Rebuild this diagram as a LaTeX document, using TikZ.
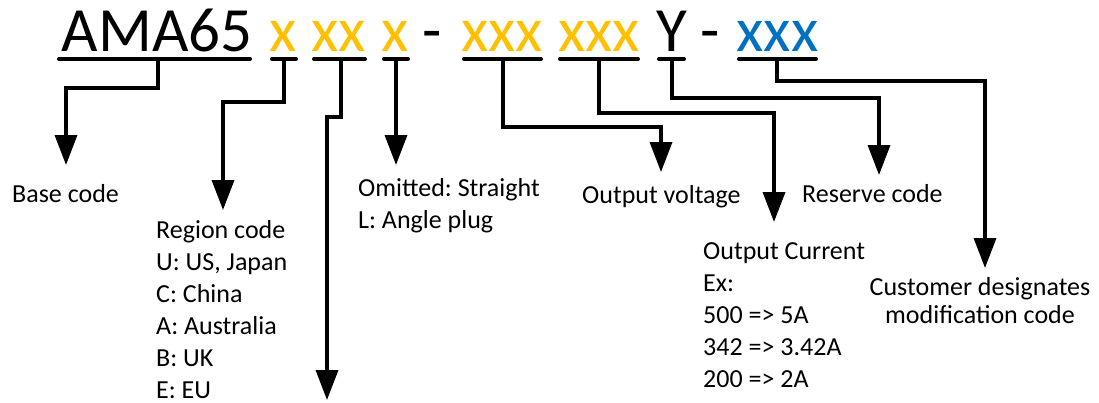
\documentclass[tikz,border=0pt]{standalone}
\usepackage{fontspec}
\setmainfont{Carlito}
\usetikzlibrary{arrows.meta}
\definecolor{codeyellow}{HTML}{FFC000}
\definecolor{codeblue}{HTML}{0070C0}
\frenchspacing
\begin{document}
\begin{tikzpicture}[x=1pt,y=-1pt,
  titletext/.style={font=\fontsize{63}{70}\selectfont, inner sep=0pt, anchor=base},
  lbl/.style={font=\fontsize{26}{32}\selectfont\frenchspacing, inner sep=0pt, anchor=base west, align=left},
  uline/.style={line width=4pt, line cap=round},
  conn/.style={line width=3.5pt, line join=miter, -{Triangle[length=30pt,width=22pt]}}]
\useasboundingbox (0,0) rectangle (1099,402);

% title segments
\node[titletext] (ama) at (157,51) {AMA65};
\node[titletext, text=codeyellow] (x1) at (283.5,51) {x};
\node[titletext, text=codeyellow] (x2) at (339,51) {xx};
\node[titletext, text=codeyellow] (x3) at (395.5,51) {x};
\node[titletext] (d1) at (432.5,51) {-};
\node[titletext, text=codeyellow] (x4) at (502,51) {xxx};
\node[titletext, text=codeyellow] (x5) at (599,51) {xxx};
\node[titletext] (yy) at (671.5,51) {Y};
\node[titletext] (d2) at (710,51) {-};
\node[titletext, text=codeblue] (x6) at (777.5,51) {xxx};

% underlines
\draw[uline] (59,59) -- (250,59);
\draw[uline] (272,59) -- (296,59);
\draw[uline] (314,59) -- (365,59);
\draw[uline] (384,59) -- (408,59);
\draw[uline] (464,59) -- (541,59);
\draw[uline] (560,59) -- (638,59);
\draw[uline] (659,59) -- (684,59);
\draw[uline] (739,59) -- (816,59);

% connector start and end points
\coordinate (ua) at (158,59);  \coordinate (ta) at (66,165);
\coordinate (ub) at (284,59);  \coordinate (tb) at (223,210);
\coordinate (uc) at (341,59);  \coordinate (tc) at (327,400);
\coordinate (ud) at (396,59);  \coordinate (td) at (396,165);
\coordinate (ue) at (503,59);  \coordinate (te) at (661,172);
\coordinate (uf) at (599,59);  \coordinate (tf) at (774,222);
\coordinate (ug) at (672,59);  \coordinate (tg) at (879,175);
\coordinate (uh) at (777,59);  \coordinate (th) at (985,268);

\draw[conn] (ua) -- ++(0,29) -| (ta);
\draw[conn] (ub) -- ++(0,43) -| (tb);
\draw[conn] (uc) -- ++(0,58) -| (tc);
\draw[conn] (ud) -- (td);
\draw[conn] (ue) -- ++(0,68) -| (te);
\draw[conn] (uf) -- ++(0,54) -| (tf);
\draw[conn] (ug) -- ++(0,39) -| (tg);
\draw[conn] (uh) -- ++(0,22) -| (th);

% labels (base anchor = baseline of the last line)
\node[lbl] (base) at (12,202) {Base code};
\node[lbl] (region) at (156,398) {Region code\\U: US, Japan\\C: China\\A: Australia\\B: UK\\E: EU};
\node[lbl] (plug) at (358,228) {Omitted: Straight\\L: Angle plug};
\node[lbl] (volt) at (582,203) {Output voltage};
\node[lbl] (curr) at (703,387) {Output Current\\Ex:\\500 => 5A\\342 => 3.42A\\200 => 2A};
\node[lbl] (resv) at (802,202) {Reserve code};
\node[font=\fontsize{26}{28}\selectfont, inner sep=0pt, anchor=base, align=center] (cust) at (980,323) {Customer designates\\modification code};
\end{tikzpicture}
\end{document}
